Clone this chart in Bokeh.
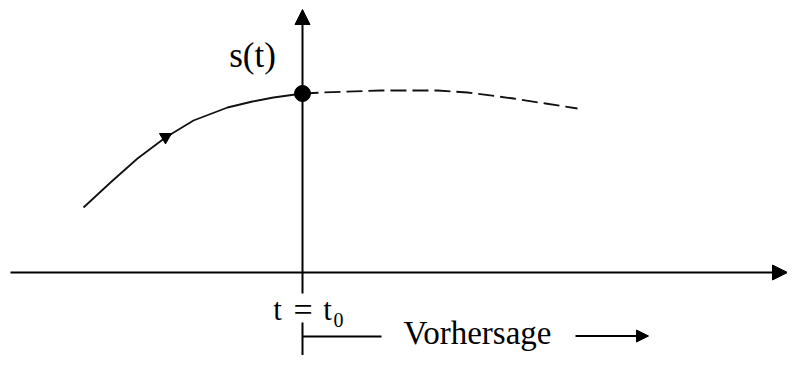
from bokeh.plotting import figure
from bokeh.models import Range1d, Arrow, NormalHead, Label
from bokeh.embed import file_html
from bokeh.resources import INLINE

# Past signal s(t) up to t0 (solid)
hist_t = [-2.19, -1.92, -1.65, -1.37, -1.09, -0.75, -0.50, -0.29, 0.0]
hist_s = [0.65, 0.90, 1.14, 1.35, 1.52, 1.65, 1.71, 1.75, 1.79]
# Forecast (dashed)
fc_t = [0.0, 0.21, 0.78, 1.35, 1.65, 2.11, 2.43, 2.75]
fc_s = [1.79, 1.80, 1.82, 1.82, 1.80, 1.74, 1.69, 1.64]
# Point at t = t0 and marker on the curve
t0 = 0.0
s0 = 1.79
mark_t = [-1.37]
mark_s = [1.355]

ylabel = "s(t)"
forecast_label = "Vorhersage"

FONT = "'Liberation Serif', 'Times New Roman', serif"

p = figure(width=787, height=355, x_range=Range1d(-3.02, 4.85), y_range=Range1d(-0.83, 2.72),
           output_backend="svg", toolbar_location=None, min_border=0,
           x_axis_location=None, y_axis_location=None)
p.grid.visible = False
p.outline_line_color = None
p.background_fill_color = "white"
p.border_fill_color = "white"

# axes
p.add_layout(Arrow(end=NormalHead(size=15, fill_color="black", line_color="black"),
                   x_start=-2.92, y_start=0, x_end=4.85, y_end=0, line_width=2, line_color="black"))
p.add_layout(Arrow(end=NormalHead(size=15, fill_color="black", line_color="black"),
                   x_start=t0, y_start=-0.21, x_end=t0, y_end=2.63, line_width=2, line_color="black"))

# curves
p.line(hist_t, hist_s, line_width=1.8, line_color="#111111")
p.line(fc_t, fc_s, line_width=1.8, line_color="#111111", line_dash="16 6")
p.scatter([t0], [s0], size=16, color="black")
p.scatter(mark_t, mark_s, marker="inverted_triangle", size=12, color="black")

# forecast bracket
p.segment([t0], [-0.50], [t0], [-0.90], line_width=2, line_color="black")
p.segment([t0], [-0.64], [0.79], [-0.64], line_width=2, line_color="black")
p.add_layout(Arrow(end=NormalHead(size=12, fill_color="black", line_color="black"),
                   x_start=2.73, y_start=-0.635, x_end=3.46, y_end=-0.635, line_width=2, line_color="black"))

# labels
p.add_layout(Label(x=-0.50, y=2.17, text=ylabel, text_font=FONT, text_font_size="35px",
                   text_align="center", text_baseline="middle", text_color="black"))
p.add_layout(Label(x=-0.25, y=-0.37, text="t", text_font=FONT, text_font_size="31px",
                   text_align="center", text_baseline="middle", text_color="black"))
p.add_layout(Label(x=0.005, y=-0.37, text="=", text_font=FONT, text_font_size="34px",
                   text_align="center", text_baseline="middle", text_color="black"))
p.add_layout(Label(x=0.25, y=-0.37, text="t", text_font=FONT, text_font_size="31px",
                   text_align="center", text_baseline="middle", text_color="black"))
p.add_layout(Label(x=0.31, y=-0.47, text="0", text_font=FONT, text_font_size="20px",
                   text_align="left", text_baseline="middle", text_color="black"))
p.add_layout(Label(x=1.75, y=-0.60, text=forecast_label, text_font=FONT, text_font_size="33px",
                   text_align="center", text_baseline="middle", text_color="black"))

open("out.html", "w").write(file_html(p, INLINE))
